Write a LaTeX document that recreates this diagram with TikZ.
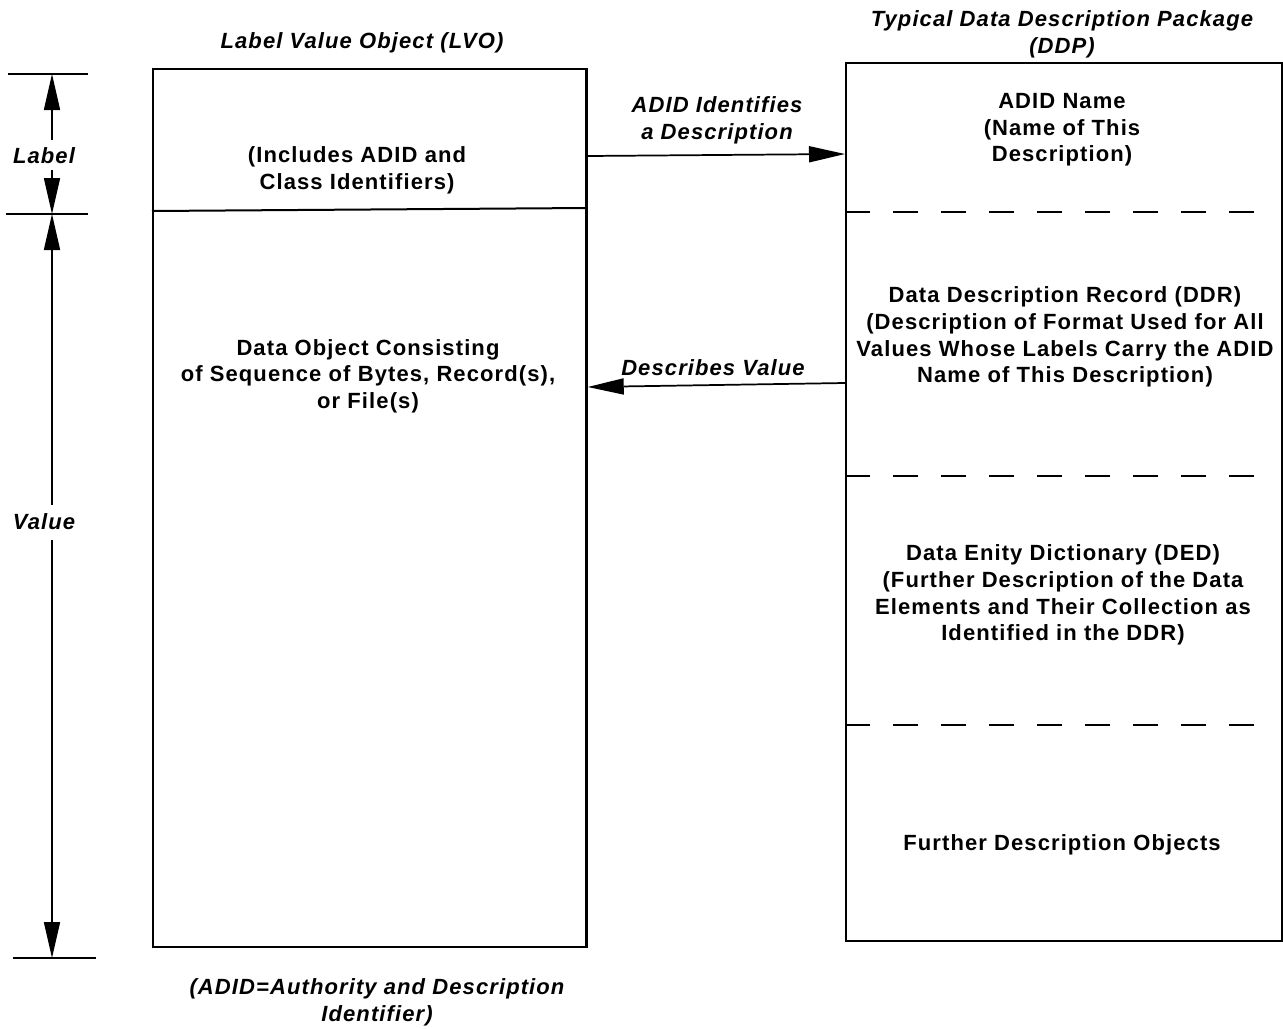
\documentclass[tikz,border=0pt]{standalone}
\usepackage{fontspec}
\setmainfont[LetterSpace=5]{Liberation Sans}
\usetikzlibrary{arrows.meta,calc}
\begin{document}
\begin{tikzpicture}[x=0.75pt,y=-0.75pt,
  txt/.style={font=\fontsize{16.5}{20}\selectfont\bfseries, align=center, inner sep=0pt},
  ttl/.style={font=\fontsize{16.5}{20}\selectfont\bfseries\itshape, align=center, inner sep=0pt},
  box/.style={draw, line width=1.8pt, anchor=north west, inner sep=0pt},
  arr/.style={line width=1.3pt, -{Triangle[length=27pt,width=12pt]}},
  dsh/.style={line width=1.6pt, dash pattern=on 19pt off 17pt},
  tick/.style={line width=1.6pt}]
\path[use as bounding box] (0,0) rectangle (1283,1029);

% boxes
\node[box, minimum width=325pt, minimum height=658.5pt] (lvo) at (152,68) {};
\node[box, minimum width=327pt, minimum height=658.5pt] (ddp) at (845,62) {};

% LVO divider
\coordinate (lvl) at ($(lvo.north west)+(0,143)$);
\coordinate (lvr) at ($(lvo.north east)+(0,140)$);
\draw[line width=1.5pt] (lvl) -- (lvr);

% DDP dashed dividers
\foreach \y/\n in {212/a,476/b,725/c}{
  \coordinate (d\n l) at (ddp.west |- 0,\y);
  \coordinate (d\n r) at (1262,\y);
  \draw[dsh] (d\n l) -- (d\n r);
}

% titles
\node[ttl] (lvot) at (362,43) {Label Value Object (LVO)};
\node[ttl] (ddpt) at (1062,34) {Typical Data Description Package\\(DDP)};

% LVO texts
\node[txt] (lbltxt) at (357,170) {(Includes ADID and\\Class Identifiers)};
\node[txt] (valtxt) at (368,376) {Data Object Consisting\\of Sequence of Bytes, Record(s),\\or File(s)};

% DDP texts
\node[txt] (adid) at (1062,130) {ADID Name\\(Name of This\\Description)};
\node[txt] (ddr) at (1065,337) {Data Description Record (DDR)\\(Description of Format Used for All\\Values Whose Labels Carry the ADID\\Name of This Description)};
\node[txt] (ded) at (1063,595) {Data Enity Dictionary (DED)\\(Further Description of the Data\\Elements and Their Collection as\\Identified in the DDR)};
\node[txt] (fdo) at (1062,845) {Further Description Objects};

% connectors
\coordinate (a1s) at (lvo.east |- 0,156);
\coordinate (a1e) at (ddp.west |- 0,154);
\draw[arr] (a1s) -- (a1e);
\node[ttl] (a1l) at (717,120) {ADID Identifies\\a Description};

\coordinate (a2s) at (ddp.west |- 0,383);
\coordinate (a2e) at (lvo.east |- 0,387);
\draw[arr] (a2s) -- (a2e);
\node[ttl] (a2l) at (713,368) {Describes Value};

% dimension marks
\coordinate (t1l) at (8,74);   \coordinate (t1r) at (88,74);
\coordinate (t2l) at (6,214);  \coordinate (t2r) at (88,214);
\coordinate (t3l) at (13,958); \coordinate (t3r) at (96,958);
\draw[tick] (t1l) -- (t1r);
\draw[tick] (t2l) -- (t2r);
\draw[tick] (t3l) -- (t3r);
\node[ttl] (lab) at (44,156) {Label};
\node[ttl] (val) at (44,522) {Value};
\coordinate (m1) at (52,74);
\coordinate (m2) at (52,214);
\coordinate (m3) at (52,958);
\draw[arr] (52,140) -- (m1);
\draw[arr] (52,170) -- (m2);
\draw[arr] (52,505) -- (m2);
\draw[arr] (52,540) -- (m3);

% footnote
\node[ttl] (foot) at (377,1002) {(ADID=Authority and Description\\Identifier)};
\end{tikzpicture}
\end{document}
